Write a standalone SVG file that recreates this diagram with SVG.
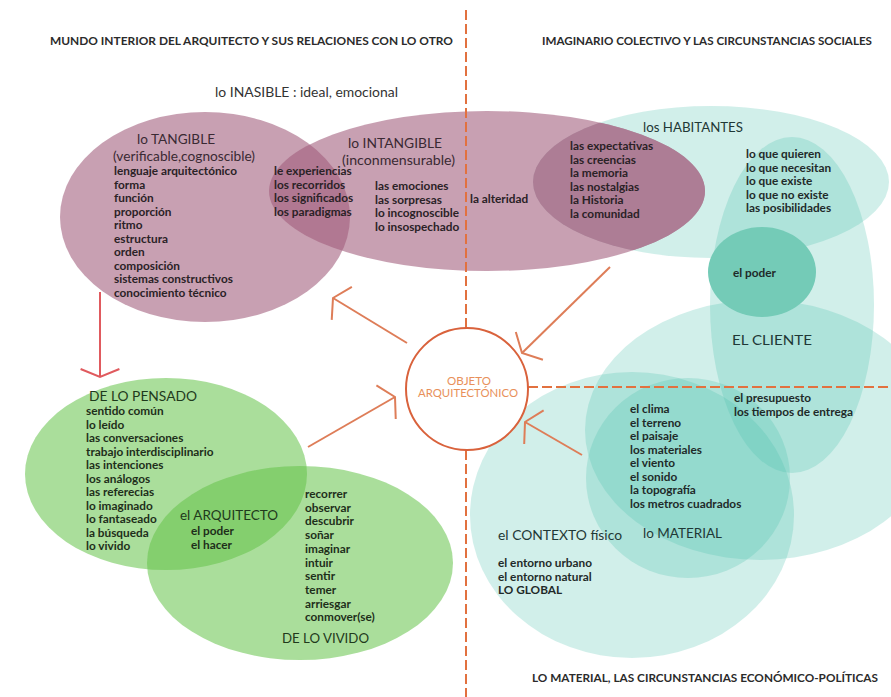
<svg xmlns="http://www.w3.org/2000/svg" width="891" height="697" viewBox="0 0 891 697">
<style>
text{font-family:Lato,"Open Sans","Liberation Sans",sans-serif}
.hdr{font-size:10.5px;font-weight:bold;fill:#2b2b2b}
.ttl{font-size:14px;fill:#3a2a33}
.sub{font-size:13px;fill:#3a2a33}
.lst{font-size:11.8px;font-weight:bold;fill:#2a2226}
.gt{font-size:14px;fill:#1f3a1c}
.gl{font-size:11.8px;font-weight:bold;fill:#1e2e1a}
.tt{font-size:14px;fill:#1f3836}
.tl{font-size:11.8px;font-weight:bold;fill:#1f2a29}
.pur{fill:rgb(160,92,122);fill-opacity:0.58}
.teal{fill:rgb(70,192,172);fill-opacity:0.25}
.grn{fill:rgb(100,195,72);fill-opacity:0.55}
.dash{stroke:#e2713f;stroke-width:2;stroke-dasharray:10 4;fill:none}
.arr{stroke:#de7d58;stroke-width:2;fill:none}
.arr2{stroke:#e05a5e;stroke-width:2;fill:none}
.obj{font-size:10.5px;fill:#e8905a}
</style>
<defs>
<marker id="va" viewBox="-13 -22 16 44" refX="0" refY="0" markerWidth="16" markerHeight="44" markerUnits="userSpaceOnUse" orient="auto">
<path d="M-10.3,-19.4 L0,0 L-10.3,19.4" fill="none" stroke="#de7d58" stroke-width="2"/>
</marker>
<marker id="vb" viewBox="-13 -22 16 44" refX="0" refY="0" markerWidth="16" markerHeight="44" markerUnits="userSpaceOnUse" orient="auto">
<path d="M-8,-19.4 L0,0 L-8,19.4" fill="none" stroke="#e05a5e" stroke-width="2"/>
</marker>
<clipPath id="habClip"><ellipse cx="711" cy="182" rx="178" ry="76"/></clipPath>
</defs>
<rect width="891" height="697" fill="#ffffff"/>

<g id="headers">
<text class="hdr" x="50" y="45" textLength="403" lengthAdjust="spacingAndGlyphs">MUNDO INTERIOR DEL ARQUITECTO Y SUS RELACIONES CON LO OTRO</text>
<text class="hdr" x="542" y="45" textLength="330" lengthAdjust="spacingAndGlyphs">IMAGINARIO COLECTIVO Y LAS CIRCUNSTANCIAS SOCIALES</text>
<text class="hdr" x="532" y="682" textLength="346" lengthAdjust="spacingAndGlyphs">LO MATERIAL, LAS CIRCUNSTANCIAS ECONÓMICO-POLÍTICAS</text>
<text x="215" y="97" font-size="13" fill="#333" textLength="183" lengthAdjust="spacingAndGlyphs">lo INASIBLE : ideal, emocional</text>
</g>

<!-- teal shapes -->
<g id="habitantes">
<ellipse class="teal" cx="711" cy="182" rx="178" ry="76"/>
</g>
<g id="cliente-alto">
<ellipse class="teal" cx="792" cy="305" rx="82" ry="168"/>
</g>
<g id="cliente">
<ellipse class="teal" cx="760" cy="430" rx="175" ry="130"/>
</g>
<g id="contexto">
<ellipse class="teal" cx="632" cy="515" rx="162" ry="143"/>
</g>
<g id="material">
<ellipse class="teal" cx="688" cy="478" rx="102" ry="100"/>
</g>
<g id="poder">
<ellipse cx="762" cy="272" rx="54" ry="45" fill="#74cbb7"/>
</g>

<!-- purple shapes -->
<g id="tangible">
<ellipse class="pur" cx="205" cy="217" rx="145" ry="105"/>
</g>
<g id="intangible">
<ellipse class="pur" cx="487" cy="191" rx="218" ry="80"/>
<ellipse cx="487" cy="191" rx="218" ry="80" fill="#ad7d95" clip-path="url(#habClip)"/>
</g>

<!-- green shapes -->
<g id="pensado">
<ellipse class="grn" cx="166" cy="474" rx="141" ry="96"/>
</g>
<g id="vivido">
<ellipse class="grn" cx="300" cy="563" rx="153" ry="97"/>
</g>

<g id="connectors">
<line class="dash" x1="466" y1="10" x2="466" y2="328"/>
<line class="dash" x1="466" y1="450" x2="466" y2="697"/>
<line class="dash" x1="528" y1="387" x2="891" y2="387"/>
<line class="arr2" x1="100" y1="292" x2="100" y2="377" marker-end="url(#vb)"/>
<line class="arr" x1="407" y1="343" x2="333" y2="298" marker-end="url(#va)"/>
<line class="arr" x1="610" y1="267" x2="522" y2="353" marker-end="url(#va)"/>
<line class="arr" x1="308" y1="447" x2="395" y2="397" marker-end="url(#va)"/>
<line class="arr" x1="582" y1="455" x2="525" y2="422" marker-end="url(#va)"/>
</g>

<g id="objeto">
<circle cx="467" cy="389" r="61" fill="#ffffff" stroke="#d9623c" stroke-width="2"/>
<text class="obj" x="469" y="385" text-anchor="middle" textLength="44" lengthAdjust="spacingAndGlyphs">OBJETO</text>
<text class="obj" x="468" y="397" text-anchor="middle" textLength="100" lengthAdjust="spacingAndGlyphs">ARQUITECTÓNICO</text>
</g>

<g id="tangible-text">
<text class="ttl" x="137" y="144" textLength="78" lengthAdjust="spacingAndGlyphs">lo TANGIBLE</text>
<text class="sub" x="113" y="160.5" textLength="142" lengthAdjust="spacingAndGlyphs">(verificable,cognoscible)</text>
<text class="lst" x="114" y="175">lenguaje arquitectónico<tspan x="114" dy="13.5">forma</tspan><tspan x="114" dy="13.5">función</tspan><tspan x="114" dy="13.5">proporción</tspan><tspan x="114" dy="13.5">ritmo</tspan><tspan x="114" dy="13.5">estructura</tspan><tspan x="114" dy="13.5">orden</tspan><tspan x="114" dy="13.5">composición</tspan><tspan x="114" dy="13.5">sistemas constructivos</tspan><tspan x="114" dy="13.5">conocimiento técnico</tspan></text>
<text class="lst" x="274" y="175">le experiencias<tspan x="274" dy="13.5">los recorridos</tspan><tspan x="274" dy="13.5">los significados</tspan><tspan x="274" dy="13.5">los paradigmas</tspan></text>
</g>

<g id="intangible-text">
<text class="ttl" x="348" y="148" textLength="94" lengthAdjust="spacingAndGlyphs">lo INTANGIBLE</text>
<text class="sub" x="342" y="165" textLength="113" lengthAdjust="spacingAndGlyphs">(inconmensurable)</text>
<text class="lst" x="375" y="190">las emociones<tspan x="375" dy="13.5">las sorpresas</tspan><tspan x="375" dy="13.5">lo incognoscible</tspan><tspan x="375" dy="13.5">lo insospechado</tspan></text>
<text class="lst" x="470" y="203">la alteridad</text>
</g>

<g id="habitantes-text">
<text class="tt" x="643" y="132" textLength="100" lengthAdjust="spacingAndGlyphs">los HABITANTES</text>
<text class="lst" x="570" y="150">las expectativas<tspan x="570" dy="13.5">las creencias</tspan><tspan x="570" dy="13.5">la memoria</tspan><tspan x="570" dy="13.5">las nostalgias</tspan><tspan x="570" dy="13.5">la Historia</tspan><tspan x="570" dy="13.5">la comunidad</tspan></text>
<text class="tl" x="746" y="158">lo que quieren<tspan x="746" dy="13.5">lo que necesitan</tspan><tspan x="746" dy="13.5">lo que existe</tspan><tspan x="746" dy="13.5">lo que no existe</tspan><tspan x="746" dy="13.5">las posibilidades</tspan></text>
<text class="tl" x="733" y="277">el poder</text>
</g>

<g id="cliente-text">
<text class="tt" x="732" y="345" textLength="80" lengthAdjust="spacingAndGlyphs">EL CLIENTE</text>
<text class="tl" x="734" y="402">el presupuesto<tspan x="734" dy="13.5">los tiempos de entrega</tspan></text>
</g>

<g id="material-text">
<text class="tl" x="630" y="413">el clima<tspan x="630" dy="13.5">el terreno</tspan><tspan x="630" dy="13.5">el paisaje</tspan><tspan x="630" dy="13.5">los materiales</tspan><tspan x="630" dy="13.5">el viento</tspan><tspan x="630" dy="13.5">el sonido</tspan><tspan x="630" dy="13.5">la topografía</tspan><tspan x="630" dy="13.5">los metros cuadrados</tspan></text>
<text class="tt" x="643" y="538" textLength="79" lengthAdjust="spacingAndGlyphs">lo MATERIAL</text>
</g>

<g id="contexto-text">
<text class="tt" x="498" y="540" textLength="124" lengthAdjust="spacingAndGlyphs">el CONTEXTO físico</text>
<text class="tl" x="498" y="567">el entorno urbano<tspan x="498" dy="13.5">el entorno natural</tspan><tspan x="498" dy="13.5">LO GLOBAL</tspan></text>
</g>

<g id="pensado-text">
<text class="gt" x="89" y="400.5" textLength="108" lengthAdjust="spacingAndGlyphs">DE LO PENSADO</text>
<text class="gl" x="86" y="415">sentido común<tspan x="86" dy="13.5">lo leído</tspan><tspan x="86" dy="13.5">las conversaciones</tspan><tspan x="86" dy="13.5">trabajo interdisciplinario</tspan><tspan x="86" dy="13.5">las intenciones</tspan><tspan x="86" dy="13.5">los análogos</tspan><tspan x="86" dy="13.5">las referecias</tspan><tspan x="86" dy="13.5">lo imaginado</tspan><tspan x="86" dy="13.5">lo fantaseado</tspan><tspan x="86" dy="13.5">la búsqueda</tspan><tspan x="86" dy="13.5">lo vivido</tspan></text>
</g>

<g id="arquitecto-text">
<text class="gt" x="180" y="520" textLength="98" lengthAdjust="spacingAndGlyphs">el ARQUITECTO</text>
<text class="gl" x="191" y="535">el poder<tspan x="191" dy="13.5">el hacer</tspan></text>
</g>

<g id="vivido-text">
<text class="gl" x="305" y="498">recorrer<tspan x="305" dy="13.7">observar</tspan><tspan x="305" dy="13.7">descubrir</tspan><tspan x="305" dy="13.7">soñar</tspan><tspan x="305" dy="13.7">imaginar</tspan><tspan x="305" dy="13.7">intuir</tspan><tspan x="305" dy="13.7">sentir</tspan><tspan x="305" dy="13.7">temer</tspan><tspan x="305" dy="13.7">arriesgar</tspan><tspan x="305" dy="13.7">conmover(se)</tspan></text>
<text class="gt" x="282" y="643" textLength="87" lengthAdjust="spacingAndGlyphs">DE LO VIVIDO</text>
</g>
</svg>
